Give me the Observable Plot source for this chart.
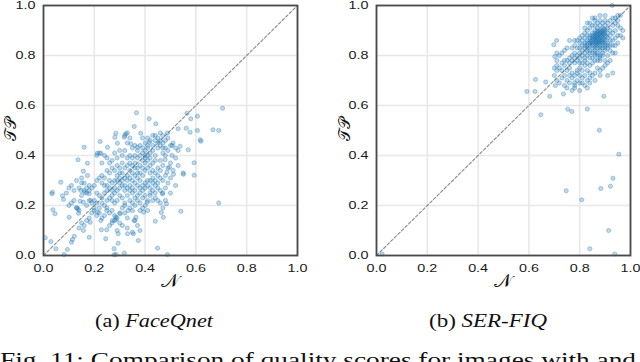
<!DOCTYPE html>
<html>
<head>
<meta charset="utf-8">
<script src="https://cdn.jsdelivr.net/npm/d3@7"></script>
<script src="https://cdn.jsdelivr.net/npm/@observablehq/plot@0.6"></script>
<style>
  html, body { margin: 0; padding: 0; background: #fff; }
  #wrap { position: relative; width: 640px; height: 362px; overflow: hidden; background: #fff; }
  .panel { position: absolute; top: 0; }
  .lbl { position: absolute; font-family: "DejaVu Serif", "Liberation Serif", serif; font-size: 16px; color: #111; white-space: nowrap; line-height: 1; }
  .lbl.big { font-size: 19px; }
</style>
</head>
<body>
<div id="wrap"></div>
<script>
const tickValues = [0, 0.2, 0.4, 0.6, 0.8, 1.0];
const tickLabels = ["0.0", "0.2", "0.4", "0.6", "0.8", "1.0"];
const xLabel = "𝒩";
const yLabel = "𝒯𝒫";
const panelTitles = [["(a) ", "FaceQnet"], ["(b) ", "SER-FIQ"]];
const figCaption = "Fig. 11: Comparison of quality scores for images with and";

// FaceQnet: [N score, TP score]
const faceqnetOutliers = [
[0.705,0.589],[0.667,0.503],[0.69,0.50],[0.69,0.21],[0.606,0.557],[0.58,0.547],[0.565,0.569],[0.606,0.50],[0.577,0.493],[0.562,0.509],
[0.62,0.457],[0.617,0.463],[0.57,0.423],[0.593,0.371],[0.593,0.321],[0.551,0.325],[0.541,0.177],[0.53,0.507],[0.538,0.437],[0.506,0.44],
[0.52,0.43],[0.506,0.40],[0.512,0.325],[0.488,0.49],[0.479,0.383],[0.496,0.353],[0.486,0.333],[0.484,0.207],[0.468,0.247],[0.464,0.172],
[0.472,0.153],[0.44,0.137],[0.449,0.029],[0.488,0.004],[0.442,0.527],[0.416,0.547],[0.366,0.571],[0.357,0.516],[0.383,0.489],[0.416,0.453],
[0.344,0.447],[0.37,0.433],[0.324,0.487],[0.318,0.473],[0.285,0.489],[0.291,0.449],[0.281,0.473],[0.252,0.433],[0.223,0.456],[0.212,0.409],
[0.226,0.409],[0.16,0.433],[0.173,0.369],[0.136,0.383],[0.157,0.337],[0.173,0.32],[0.18,0.28],[0.15,0.29],[0.147,0.26],[0.163,0.253],
[0.18,0.247],[0.068,0.293],[0.035,0.253],[0.033,0.247],[0.075,0.239],[0.079,0.224],[0.037,0.183],[0.045,0.167],[0.101,0.153],[0.144,0.217],
[0.131,0.191],[0.136,0.187],[0.138,0.169],[0.157,0.213],[0.186,0.22],[0.121,0.077],[0.114,0.064],[0.11,0.053],[0.094,0.024],[0.081,0.004],
[0.049,0.027],[0.029,0.056],[0.007,0.071],[0.18,0.073],[0.157,0.10],[0.184,0.133],[0.212,0.173],[0.226,0.14],[0.228,0.103],[0.249,0.103],
[0.245,0.067],[0.278,0.027],[0.278,0.003],[0.285,0.004],[0.294,0.049],[0.318,0.009],[0.294,0.087],[0.331,0.087],[0.354,0.087],[0.35,0.093],
[0.373,0.06],[0.357,0.14],[0.364,0.153],[0.333,0.18],[0.32,0.20],[0.302,0.167],[0.285,0.153],[0.285,0.143],[0.271,0.14],[0.249,0.18],
[0.394,0.173],[0.409,0.213]
];
const faceqnetCluster = [
[0.39,0.41],[0.40,0.42],[0.41,0.40],[0.40,0.40],[0.39,0.43],[0.41,0.43],[0.42,0.41],[0.38,0.40],[0.40,0.39],[0.42,0.39],[0.41,0.44],[0.43,0.42],
[0.39,0.38],[0.44,0.40],[0.37,0.42],[0.38,0.44],[0.43,0.44],[0.45,0.43],[0.44,0.46],[0.45,0.47],[0.46,0.46],[0.47,0.48],[0.46,0.44],[0.47,0.45],
[0.45,0.45],[0.48,0.46],[0.47,0.43],[0.48,0.43],[0.49,0.47],[0.46,0.49],[0.43,0.48],[0.44,0.48],[0.42,0.46],[0.41,0.47],[0.40,0.45],[0.36,0.44],
[0.35,0.43],[0.37,0.39],[0.36,0.40],[0.43,0.37],[0.44,0.38],[0.42,0.36],[0.45,0.35],[0.46,0.38],[0.48,0.40],[0.47,0.41],[0.50,0.44],[0.49,0.42],
[0.51,0.45],[0.39,0.47],[0.33,0.45],[0.34,0.47],[0.32,0.48],[0.33,0.49],
[0.29,0.30],[0.30,0.31],[0.31,0.30],[0.30,0.29],[0.28,0.30],[0.29,0.32],[0.32,0.31],[0.31,0.28],[0.33,0.30],[0.30,0.33],[0.27,0.29],[0.28,0.27],
[0.32,0.28],[0.33,0.32],[0.34,0.31],[0.31,0.33],[0.35,0.30],[0.34,0.28],[0.36,0.29],[0.35,0.27],[0.36,0.26],[0.37,0.28],[0.38,0.30],[0.37,0.31],
[0.36,0.32],[0.38,0.27],[0.39,0.28],[0.38,0.25],[0.37,0.24],[0.39,0.26],[0.40,0.27],[0.40,0.29],[0.41,0.30],[0.41,0.28],[0.42,0.27],[0.42,0.25],
[0.43,0.26],[0.42,0.24],[0.44,0.25],[0.43,0.29],[0.40,0.24],[0.41,0.22],[0.39,0.23],[0.36,0.23],[0.35,0.25],[0.34,0.26],[0.33,0.27],[0.32,0.26],
[0.30,0.27],[0.29,0.26],[0.27,0.26],[0.26,0.27],[0.25,0.28],[0.26,0.30],[0.25,0.26],[0.24,0.25],[0.27,0.24],[0.28,0.25],[0.30,0.24],[0.31,0.23],
[0.33,0.24],[0.34,0.22],[0.32,0.21],[0.35,0.21],[0.37,0.22],[0.38,0.21],[0.36,0.20],[0.29,0.22],[0.28,0.21],[0.27,0.22],[0.26,0.23],[0.25,0.22],
[0.23,0.23],[0.22,0.24],[0.21,0.25],[0.20,0.22],[0.21,0.21],[0.23,0.21],[0.24,0.20],[0.22,0.19],[0.19,0.21],[0.18,0.22],[0.20,0.19],[0.17,0.20],
[0.32,0.35],[0.33,0.36],[0.34,0.37],[0.35,0.36],[0.36,0.37],[0.34,0.34],[0.35,0.33],[0.37,0.35],[0.38,0.36],[0.39,0.35],[0.40,0.34],[0.41,0.35],
[0.42,0.33],[0.43,0.34],[0.44,0.33],[0.45,0.32],[0.46,0.31],[0.44,0.30],[0.45,0.29],[0.47,0.30],[0.48,0.32],[0.46,0.34],[0.47,0.36],[0.38,0.33],
[0.39,0.32],[0.37,0.33],[0.30,0.35],[0.29,0.36],[0.31,0.37],[0.28,0.34],[0.27,0.35],[0.26,0.33],[0.25,0.34],[0.24,0.31],[0.23,0.32],[0.22,0.31],
[0.21,0.30],[0.23,0.29],[0.24,0.28],[0.20,0.28],[0.19,0.27],[0.18,0.26],[0.17,0.27],[0.16,0.26],[0.17,0.25],[0.15,0.24],[0.26,0.37],[0.27,0.38],
[0.25,0.39],[0.24,0.40],[0.22,0.41],[0.21,0.40],[0.23,0.37],[0.29,0.39],[0.31,0.40],[0.32,0.42],[0.30,0.42],[0.28,0.41],[0.34,0.40],[0.33,0.39],
[0.35,0.39],[0.36,0.35],[0.40,0.37],[0.41,0.38],[0.43,0.31],[0.42,0.30],[0.44,0.28],[0.45,0.27],[0.46,0.26],[0.44,0.23],[0.45,0.22],[0.46,0.21],
[0.43,0.22],[0.47,0.25],[0.48,0.27],[0.49,0.29],[0.50,0.31],[0.51,0.34],[0.49,0.35],[0.50,0.37],[0.52,0.39],[0.53,0.42],
[0.25,0.19],[0.26,0.17],[0.27,0.18],[0.28,0.16],[0.29,0.15],[0.30,0.17],[0.31,0.19],[0.32,0.17],[0.28,0.14],[0.27,0.13],[0.26,0.12],[0.23,0.15],
[0.22,0.17],[0.21,0.16],[0.20,0.18],[0.19,0.17],[0.18,0.15],[0.17,0.14],[0.16,0.12],[0.15,0.13],[0.14,0.11],[0.13,0.19],[0.14,0.18],[0.12,0.22],
[0.11,0.21],[0.10,0.20],[0.12,0.26],[0.11,0.28],[0.10,0.27],[0.09,0.25],[0.13,0.30],[0.15,0.31],[0.16,0.29],[0.14,0.27],[0.24,0.16],[0.33,0.15],
[0.34,0.19],[0.35,0.18],[0.39,0.19],[0.40,0.20],[0.38,0.18],[0.41,0.18],[0.36,0.14],[0.37,0.12],[0.38,0.10],[0.33,0.11],[0.31,0.12],[0.30,0.13],
[0.29,0.10],[0.48,0.22],[0.47,0.19],[0.50,0.25],[0.52,0.28],[0.53,0.36],[0.55,0.33]
];

// SER-FIQ: [N score, TP score]
const serfiqOutliers = [
[0.928,1.0],[0.954,0.405],[0.931,0.309],[0.921,0.277],[0.883,0.268],[0.747,0.259],[0.808,0.223],[0.914,0.10],[0.84,0.027],[0.938,0.006],
[0.877,0.501],[0.895,0.637],[0.83,0.586],[0.753,0.585],[0.769,0.576],[0.736,0.646],[0.647,0.563],[0.592,0.656],[0.624,0.656],[0.626,0.704],
[0.666,0.694],[0.682,0.637],[0.704,0.68],[0.702,0.796],[0.709,0.86],[0.698,0.843],[0.022,0.006]
];
const serfiqCluster = [
[0.87,0.87],[0.88,0.88],[0.86,0.86],[0.87,0.89],[0.88,0.86],[0.89,0.87],[0.86,0.88],[0.85,0.87],[0.87,0.85],[0.88,0.90],[0.89,0.89],[0.90,0.88],
[0.86,0.90],[0.85,0.85],[0.84,0.86],[0.88,0.84],[0.89,0.85],[0.90,0.86],[0.91,0.87],[0.90,0.90],[0.91,0.89],[0.87,0.91],[0.86,0.84],[0.85,0.83],
[0.84,0.84],[0.83,0.85],[0.84,0.88],[0.85,0.89],[0.86,0.92],[0.88,0.92],[0.89,0.91],[0.90,0.92],[0.91,0.91],[0.92,0.90],[0.92,0.88],[0.93,0.89],
[0.92,0.86],[0.91,0.85],[0.90,0.84],[0.89,0.83],[0.87,0.83],[0.88,0.82],[0.86,0.82],[0.85,0.81],[0.83,0.82],[0.82,0.83],[0.82,0.81],[0.81,0.82],
[0.80,0.81],[0.81,0.80],[0.83,0.80],[0.84,0.81],[0.85,0.79],[0.84,0.79],[0.82,0.79],[0.80,0.79],[0.79,0.80],[0.78,0.81],[0.79,0.78],[0.78,0.79],
[0.77,0.80],[0.78,0.77],[0.77,0.78],[0.76,0.79],[0.75,0.78],[0.76,0.77],[0.74,0.78],[0.73,0.77],[0.74,0.76],[0.72,0.75],[0.71,0.76],[0.71,0.74],
[0.73,0.74],[0.75,0.74],[0.76,0.75],[0.77,0.73],[0.78,0.72],[0.79,0.73],[0.80,0.72],[0.79,0.70],[0.78,0.69],[0.77,0.71],[0.76,0.72],[0.75,0.70],
[0.74,0.72],[0.73,0.71],[0.76,0.69],[0.78,0.68],[0.80,0.69],[0.81,0.71],[0.82,0.72],[0.83,0.74],[0.84,0.73],[0.82,0.76],[0.83,0.77],[0.84,0.76],
[0.85,0.77],[0.86,0.78],[0.87,0.78],[0.88,0.78],[0.86,0.80],[0.87,0.80],[0.88,0.79],[0.89,0.80],[0.90,0.78],[0.91,0.80],[0.92,0.82],[0.93,0.81],
[0.94,0.81],[0.92,0.78],[0.90,0.76],[0.91,0.77],[0.93,0.73],[0.91,0.72],[0.88,0.74],[0.87,0.75],[0.89,0.75],[0.86,0.73],[0.85,0.72],[0.84,0.71],
[0.83,0.70],[0.82,0.68],[0.81,0.69],[0.79,0.74],[0.80,0.75],[0.81,0.74],[0.82,0.78],[0.80,0.77],[0.81,0.77],[0.93,0.92],[0.94,0.93],[0.95,0.94],
[0.94,0.95],[0.96,0.96],[0.95,0.92],[0.96,0.91],[0.94,0.90],[0.95,0.88],[0.96,0.88],[0.94,0.87],[0.93,0.86],[0.95,0.85],[0.94,0.84],[0.93,0.84],
[0.92,0.84],[0.91,0.83],[0.92,0.94],[0.91,0.93],[0.90,0.94],[0.89,0.93],[0.88,0.94],[0.87,0.93],[0.86,0.94],[0.85,0.92],[0.84,0.91],[0.83,0.90],
[0.82,0.89],[0.83,0.88],[0.82,0.87],[0.81,0.86],[0.80,0.85],[0.79,0.86],[0.80,0.87],[0.81,0.88],[0.79,0.83],[0.78,0.84],[0.77,0.83],[0.78,0.86],
[0.76,0.86],[0.75,0.83],[0.74,0.82],[0.73,0.81],[0.72,0.80],[0.71,0.81],[0.71,0.78],[0.70,0.75],[0.70,0.72],[0.71,0.70],[0.72,0.69],[0.74,0.68],
[0.75,0.67],[0.77,0.66],[0.78,0.67],[0.80,0.66],[0.83,0.67],[0.84,0.69],[0.86,0.70],[0.88,0.72],[0.97,0.90],[0.97,0.87],[0.95,0.96],[0.93,0.95],
[0.90,0.96],[0.88,0.96],[0.86,0.95],[0.85,0.95],[0.84,0.93],[0.83,0.93],[0.82,0.91],[0.88,0.85],[0.87,0.86],[0.86,0.87],[0.89,0.88],[0.88,0.87],
[0.87,0.88],[0.86,0.85],[0.85,0.86],[0.90,0.85],[0.89,0.86],[0.88,0.89],[0.87,0.90],[0.86,0.89],[0.89,0.90],[0.90,0.89],[0.85,0.88],[0.84,0.87],
[0.83,0.86],[0.84,0.85],[0.83,0.84],[0.82,0.85],[0.81,0.84],[0.80,0.83],[0.85,0.84],[0.86,0.83],[0.87,0.84],[0.88,0.83],[0.89,0.84],[0.90,0.83],
[0.91,0.84],[0.90,0.82],[0.89,0.81],[0.88,0.80],[0.87,0.81],[0.86,0.81],[0.84,0.82],[0.83,0.83],[0.82,0.84],
[0.875,0.865],[0.865,0.875],[0.885,0.875],[0.875,0.885],[0.865,0.855],[0.895,0.865],[0.855,0.865],[0.885,0.895],[0.875,0.855],[0.865,0.885],
[0.895,0.885],[0.855,0.875],[0.905,0.875],[0.875,0.895],[0.845,0.855],[0.895,0.905],[0.865,0.845],[0.885,0.855]
];

const dotColor = "#1f77b4";

function panel(points, width, marginRight) {
  const p = Plot.plot({
    width, height: 285,
    marginLeft: 43, marginRight, marginTop: 5, marginBottom: 30,
    style: { fontFamily: "'Liberation Sans', Arial, sans-serif", fontSize: "11.5px", color: "#1a1a1a", background: "transparent", overflow: "visible" },
    x: { domain: [0, 1], ticks: tickValues, tickFormat: (d, i) => tickLabels[i], tickSize: 0, tickPadding: 8, label: null },
    y: { domain: [0, 1], ticks: tickValues, tickFormat: (d, i) => tickLabels[i], tickSize: 0, tickPadding: 8, label: null },
    marks: [
      Plot.gridX(tickValues, { stroke: "#e8e8e8", strokeOpacity: 1, strokeWidth: 1.6 }),
      Plot.gridY(tickValues, { stroke: "#e8e8e8", strokeOpacity: 1, strokeWidth: 1.6 }),
      Plot.line(tickValues, { x: d => d, y: d => d, stroke: "#8a8a8a", strokeWidth: 1.1, strokeDasharray: "3,2" }),
      Plot.dot(points, { x: d => d[0], y: d => d[1], r: 2.1, fill: dotColor, fillOpacity: 0.28, stroke: dotColor, strokeOpacity: 0.5, strokeWidth: 0.7 }),
      Plot.frame({ stroke: "#4a4a4a", strokeWidth: 1.8 })
    ]
  });
  p.querySelectorAll("g[aria-label$='tick label'] text, g[aria-label$='axis'] text").forEach(t => {
    const tr = t.getAttribute("transform") || "";
    t.setAttribute("transform", tr + " scale(1.25,1)");
  });
  return p;
}

const wrap = document.getElementById("wrap");
function place(el, left) {
  const d = document.createElement("div");
  d.className = "panel";
  d.style.left = left + "px";
  d.appendChild(el);
  wrap.appendChild(d);
}
place(panel(faceqnetOutliers.concat(faceqnetCluster), 310, 13), 0);
place(panel(serfiqOutliers.concat(serfiqCluster), 307, 10), 333);

function label(text, left, top, rotate, cls) {
  const d = document.createElement("div");
  d.className = "lbl" + (cls ? " " + cls : "");
  d.textContent = text;
  d.style.left = left + "px";
  d.style.top = top + "px";
  d.style.transform = rotate ? "translate(-50%,-50%) rotate(-90deg)" : "translate(-50%,-50%)";
  wrap.appendChild(d);
}
label(xLabel, 170, 280, false, "big");
label(xLabel, 503, 280, false, "big");
label(yLabel, 11, 129, true);
label(yLabel, 345, 129, true);

const ns = "http://www.w3.org/2000/svg";
const csvg = document.createElementNS(ns, "svg");
csvg.setAttribute("width", 640); csvg.setAttribute("height", 362);
csvg.style.position = "absolute"; csvg.style.left = "0px"; csvg.style.top = "0px";
csvg.style.pointerEvents = "none";
function svgText(x, y, size, len, parts) {
  const t = document.createElementNS(ns, "text");
  t.setAttribute("x", x); t.setAttribute("y", y);
  t.setAttribute("font-family", "'Liberation Serif', 'Times New Roman', serif");
  t.setAttribute("font-size", size); t.setAttribute("fill", "#111");
  t.setAttribute("textLength", len); t.setAttribute("lengthAdjust", "spacingAndGlyphs");
  parts.forEach(([s, italic]) => {
    const ts = document.createElementNS(ns, "tspan");
    ts.textContent = s;
    if (italic) ts.setAttribute("font-style", "italic");
    t.appendChild(ts);
  });
  csvg.appendChild(t);
}
svgText(95, 327, 18, 118, [[panelTitles[0][0], false], [panelTitles[0][1], true]]);
svgText(429, 327, 18, 118, [[panelTitles[1][0], false], [panelTitles[1][1], true]]);
svgText(0, 367, 21, 636, [[figCaption, false]]);
wrap.appendChild(csvg);
</script>
</body>
</html>
